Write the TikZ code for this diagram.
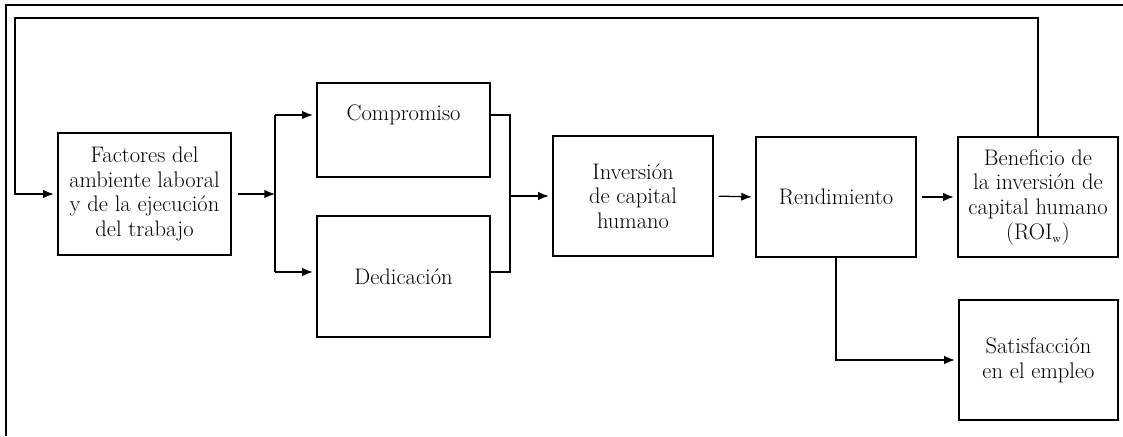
\documentclass[tikz,border=0pt]{standalone}
\usepackage{tikz}
\usetikzlibrary{arrows.meta,shapes}

\begin{document}
\begin{tikzpicture}[x=0.025cm,y=-0.025cm,
    caja/.style={rectangle,draw,line width=0.8pt,inner sep=0pt,outer sep=0pt,
        align=center,font=\fontsize{16}{17.5}\selectfont},
    flecha/.style={draw,line width=0.9pt,-{Latex[length=7.5pt,width=6pt]}},
    linea/.style={draw,line width=0.9pt}]
\useasboundingbox (0,0) rectangle (1123,436);
% marco exterior
\draw[line width=2pt] (6,436) -- (6,5) -- (1123,5);

\node[caja, minimum width = 4.325cm, minimum height = 3.05cm] (fact) at (144.5,194)
    {Factores del\\ambiente laboral\\y de la ejecución\\del trabajo};
\node[caja, minimum width = 4.325cm, minimum height = 2.35cm,
    label={[yshift=0.375cm,font=\fontsize{16}{17.5}\selectfont]center:Compromiso}] (comp) at (403.5,130) {};
\node[caja, minimum width = 4.325cm, minimum height = 3.025cm] (dedi) at (403.5,276.5) {Dedicación};

\node[caja, minimum width = 4cm, minimum height = 3cm] (inv) at (633,196)
    {Inversión\\de capital\\humano};
\node[caja, minimum width = 4cm, minimum height = 3cm] (rend) at (836,197) {Rendimiento};
\node[caja, minimum width = 4cm, minimum height = 3cm] (bene) at (1038,197)
    {Beneficio de\\la inversión de\\capital humano\\(ROI$_{\scriptscriptstyle\mathrm{w}}$)};
\node[caja, minimum width = 3.975cm, minimum height = 3cm] (sati) at (1038.5,360)
    {Satisfacción\\en el empleo};

\coordinate (esq) at (15,18);
\coordinate (div) at (275,194);
\coordinate (divA) at (275,115);
\coordinate (divB) at (275,272);
\coordinate (junA) at (510,115);
\coordinate (junB) at (510,272);
\coordinate (jun) at (510,196);

% retroalimentacion
\draw[flecha, shorten >=3pt] (bene.north) |- (esq) |- (fact.west);

\draw[flecha, shorten <=5pt] (fact.east) -- (div);
\draw[linea] (divA) -- (divB);
\draw[flecha, shorten >=3pt] (divA) -- (divA -| comp.west);
\draw[flecha, shorten >=3pt] (divB) -- (divB -| dedi.west);

\draw[linea] (divA -| comp.east) -- (junA) -- (junB) -- (divB -| dedi.east);
\draw[flecha, shorten >=3pt] (jun) -- (inv.west);

\draw[flecha, shorten <=4pt, shorten >=3pt] (inv.east) -- (rend.west);
\draw[flecha, shorten <=4pt, shorten >=3pt] (rend.east) -- (bene.west);
\draw[flecha, shorten >=3pt] (rend.south) |- (sati.west);
\end{tikzpicture}
\end{document}
